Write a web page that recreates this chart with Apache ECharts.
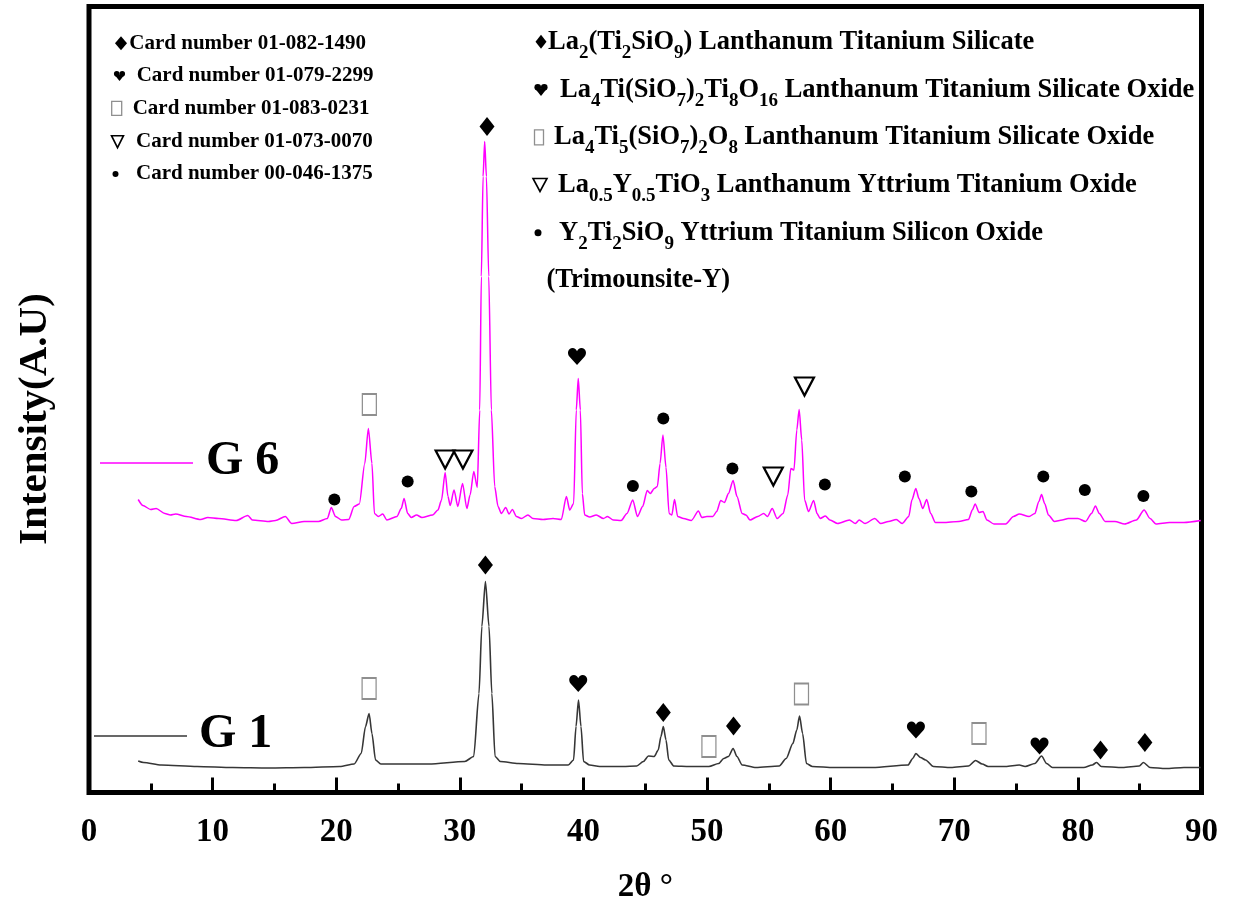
<!DOCTYPE html>
<html>
<head>
<meta charset="utf-8">
<title>XRD patterns G1 / G6</title>
<script src="https://cdn.jsdelivr.net/npm/echarts/dist/echarts.min.js"></script>
<style>
  html, body { margin: 0; padding: 0; background: #ffffff; }
  #chart { width: 1235px; height: 917px; }
</style>
</head>
<body>
<div id="chart"></div>
<script>
// ---------------------------------------------------------------------------
// Data
// ---------------------------------------------------------------------------

// 2θ axis range and major tick step (degrees)
const twoThetaMin = 0;
const twoThetaMax = 90;
const twoThetaStep = 10;
// intensity axis in arbitrary units
const intensityMax = 786;

// Diffraction pattern of sample G6: [2θ, intensity]
const g6Pattern = [
  [3.98, 293], [4.36, 287], [4.99, 283], [5.43, 284], [6.14, 279], [6.58, 277.5],
  [7.01, 278.5], [7.88, 276], [9.03, 273], [9.61, 275], [10.48, 274], [11.91, 272],
  [12.85, 277], [13.22, 272.5], [14.52, 271], [15.09, 272], [15.88, 276], [16.40, 269],
  [17.41, 271], [18.56, 271], [19.28, 274], [19.60, 285], [19.94, 276], [20.44, 272.5],
  [21.01, 273], [21.45, 286], [21.87, 288.5], [22.31, 329], [22.60, 364], [22.89, 329],
  [23.09, 279], [23.41, 276], [23.76, 278.5], [24.10, 272.5], [24.91, 276], [25.26, 284],
  [25.49, 294], [25.78, 279], [26.07, 275], [26.50, 277.5], [26.93, 275], [27.80, 277.5],
  [28.23, 282.5], [28.52, 292.5], [28.81, 320], [29.04, 296], [29.22, 287], [29.53, 302.5],
  [29.84, 286], [30.22, 309], [30.57, 284], [30.83, 297.5], [31.13, 321], [31.41, 305],
  [31.61, 382.5], [31.74, 516], [31.88, 616], [32.01, 651], [32.15, 616], [32.34, 516],
  [32.55, 382.5], [32.82, 306], [33.09, 286], [33.36, 279], [33.71, 285], [33.98, 278.5],
  [34.25, 283], [34.58, 276], [34.98, 274], [35.51, 277.5], [35.92, 274], [36.73, 273],
  [37.54, 274], [38.21, 273], [38.62, 296], [38.89, 282.5], [39.21, 289], [39.42, 382.5],
  [39.58, 414], [39.75, 382.5], [39.91, 299], [40.10, 277.5], [40.50, 275.5], [41.04, 277.5],
  [41.62, 274], [41.94, 276], [42.42, 272.5], [43.05, 272], [43.52, 279], [43.99, 292.5],
  [44.37, 276], [44.79, 286], [45.16, 302], [45.41, 299], [45.73, 304], [45.98, 306],
  [46.20, 329], [46.43, 357.5], [46.68, 325], [46.93, 279], [47.15, 277.5], [47.37, 293],
  [47.62, 276], [48.10, 274], [48.73, 272], [49.30, 281.5], [49.58, 275], [49.99, 276],
  [50.47, 276], [50.78, 281], [51.10, 292], [51.41, 290], [51.73, 299], [52.11, 312],
  [52.42, 296], [52.84, 279], [53.15, 277.5], [53.47, 272.5], [54.10, 276], [54.58, 279],
  [54.89, 276], [55.27, 284], [55.67, 274], [56.15, 279], [56.53, 297.5], [56.78, 324],
  [57.03, 322.5], [57.26, 362.5], [57.45, 383], [57.66, 352.5], [57.89, 292.5], [58.21, 281],
  [58.62, 292], [58.90, 279], [59.15, 274], [59.57, 276.5], [59.94, 272.5], [60.57, 269],
  [61.52, 272.5], [62.00, 269], [62.31, 272.5], [62.78, 269], [63.57, 274], [64.05, 269],
  [64.68, 271], [65.31, 273], [65.78, 269], [66.32, 276], [66.57, 292.5], [66.89, 304],
  [67.14, 294], [67.45, 284], [67.77, 293], [68.09, 279], [68.47, 270], [69.10, 270],
  [70.36, 271], [71.15, 273], [71.46, 282.5], [71.69, 288.5], [72.01, 280], [72.32, 281],
  [72.64, 272.5], [73.21, 268.5], [74.16, 268.5], [74.79, 276], [75.26, 278.5], [76.05, 276],
  [76.52, 279], [76.84, 291], [77.06, 298], [77.31, 289], [77.62, 277.5], [78.10, 271],
  [78.73, 272.5], [79.21, 274], [80.00, 274], [80.62, 271], [81.10, 279], [81.42, 286.5],
  [81.73, 279], [82.21, 271], [83.00, 271], [83.78, 268.5], [84.73, 272.5], [85.36, 282.5],
  [85.84, 274], [86.31, 268.5], [87.41, 270], [88.58, 270], [89.94, 272]
];

// Diffraction pattern of sample G1: [2θ, intensity]
const g1Pattern = [
  [3.98, 31.5], [4.41, 30], [5.85, 27.5], [8.74, 26], [11.63, 25], [14.52, 24.5],
  [17.41, 25], [20.29, 26], [21.45, 28.5], [22.02, 39], [22.37, 66], [22.66, 79],
  [22.89, 59], [23.18, 32.5], [23.61, 28.5], [24.62, 28.5], [27.50, 28.5], [30.40, 31],
  [31.12, 36], [31.55, 99], [31.78, 166], [32.07, 211], [32.36, 166], [32.59, 99],
  [32.85, 36], [33.28, 31], [34.73, 29], [37.03, 27.5], [38.77, 27.5], [39.20, 32.5],
  [39.40, 66], [39.60, 92.5], [39.80, 66], [40.01, 31], [40.50, 27.5], [41.31, 26],
  [43.20, 26], [44.31, 26.5], [44.85, 31], [45.26, 36.5], [45.73, 36], [46.05, 42.5],
  [46.27, 56], [46.46, 66], [46.68, 52.5], [46.90, 32.5], [47.31, 26.5], [48.57, 26],
  [50.15, 26], [50.94, 29], [51.35, 34], [51.73, 36], [52.11, 44], [52.42, 36],
  [52.84, 27.5], [53.95, 25], [55.84, 26.5], [56.40, 34], [56.94, 49], [57.26, 62.5],
  [57.48, 76.5], [57.73, 59], [58.04, 29], [58.52, 26], [60.25, 25], [63.40, 25],
  [66.26, 27.5], [66.64, 34], [66.89, 39], [67.27, 35], [67.68, 32.5], [68.31, 26],
  [69.73, 25], [71.15, 26.5], [71.72, 32], [72.26, 28.5], [72.73, 26], [74.16, 26],
  [75.26, 27.5], [75.73, 26], [76.52, 29], [77.06, 36.5], [77.47, 29], [77.94, 25],
  [80.47, 25], [81.17, 27.5], [81.51, 30], [81.89, 26], [83.62, 25], [84.97, 26.5],
  [85.30, 30], [85.84, 25], [87.10, 24], [88.58, 25], [89.94, 25]
];

// Phase identification marks placed over the peaks: [2θ, intensity]
const diamondMarks = [[32.2, 666], [32.07, 227.5], [46.46, 80], [52.14, 66.5], [81.83, 42.5], [85.42, 50]];
const heartMarks = [[39.48, 436], [39.58, 109], [66.9, 62.5], [76.9, 46.5]];
const boxMarks = [[22.68, 388], [22.66, 104], [50.15, 46], [57.64, 98.5], [72.0, 59]];
const triangleMarks = [[28.81, 333], [30.25, 333], [55.36, 316], [57.88, 406]];
const dotMarks = [
  [19.85, 293], [25.78, 311], [44.0, 306.5], [46.46, 374], [52.05, 324], [59.53, 308],
  [66.0, 316], [71.38, 301], [77.2, 316], [80.56, 302.5], [85.3, 296.5]
];

// Sample names
const sampleNames = ['G 6', 'G 1'];

// Reference card keys
const cardLegend = [
  ['diamond', 'Card number 01-082-1490'],
  ['heart', 'Card number 01-079-2299'],
  ['box', 'Card number 01-083-0231'],
  ['triangle', 'Card number 01-073-0070'],
  ['dot', 'Card number 00-046-1375']
];

// Phase keys (m = normal text, s = subscript)
const phaseLegend = [
  ['diamond', '{m|La}{s|2}{m|(Ti}{s|2}{m|SiO}{s|9}{m|) Lanthanum Titanium Silicate}'],
  ['heart', '{m|La}{s|4}{m|Ti(SiO}{s|7}{m|)}{s|2}{m|Ti}{s|8}{m|O}{s|16}{m| Lanthanum Titanium Silicate Oxide}'],
  ['box', '{m|La}{s|4}{m|Ti}{s|5}{m|(SiO}{s|7}{m|)}{s|2}{m|O}{s|8}{m| Lanthanum Titanium Silicate Oxide}'],
  ['triangle', '{m|La}{s|0.5}{m|Y}{s|0.5}{m|TiO}{s|3}{m| Lanthanum Yttrium Titanium Oxide}'],
  ['dot', '{m|Y}{s|2}{m|Ti}{s|2}{m|SiO}{s|9}{m| Yttrium Titanium Silicon Oxide}'],
  [null, '{m|(Trimounsite-Y)}']
];

const axisTitles = { x: '2θ °', y: 'Intensity(A.U)' };

// ---------------------------------------------------------------------------
// Styling / layout
// ---------------------------------------------------------------------------
const SERIF = "'Liberation Serif', 'Times New Roman', serif";
const MAGENTA = '#ff00ff';
const DARK = '#363636';
const BOX_GREY = '#8f8f8f';

const HEART_PATH = 'path://M50,92 L11,50 C-4,34 3,6 27,6 C38,6 46,14 50,23 C54,14 62,6 73,6 C97,6 104,34 89,50 Z';

// glyph drawn with plain graphic shapes (used by the two key blocks)
function glyph(kind, cx, cy, w, h) {
  switch (kind) {
    case 'diamond':
      return { type: 'polygon', shape: { points: [[cx, cy - h / 2], [cx + w / 2, cy], [cx, cy + h / 2], [cx - w / 2, cy]] },
               style: { fill: '#000' } };
    case 'heart': {
      const r = w / 4;
      return { type: 'group', children: [
        { type: 'circle', shape: { cx: cx - r, cy: cy - h / 2 + r, r: r * 1.02 }, style: { fill: '#000' } },
        { type: 'circle', shape: { cx: cx + r, cy: cy - h / 2 + r, r: r * 1.02 }, style: { fill: '#000' } },
        { type: 'polygon', shape: { points: [[cx - 2 * r + 0.3, cy - h / 2 + r * 1.3], [cx + 2 * r - 0.3, cy - h / 2 + r * 1.3], [cx, cy + h / 2]] },
          style: { fill: '#000' } }
      ] };
    }
    case 'box':
      return { type: 'rect', shape: { x: cx - w / 2, y: cy - h / 2, width: w, height: h },
               style: { fill: 'none', stroke: BOX_GREY, lineWidth: 1.3 } };
    case 'triangle':
      return { type: 'polygon', shape: { points: [[cx - w / 2, cy - h / 2], [cx + w / 2, cy - h / 2], [cx, cy + h / 2]] },
               style: { fill: '#fff', stroke: '#000', lineWidth: 1.6 } };
    case 'dot':
      return { type: 'circle', shape: { cx: cx, cy: cy, r: w / 2 }, style: { fill: '#000' } };
  }
  return null;
}

const graphics = [];

// card key block (upper left)
const cardRowY = [43.3, 76, 108.3, 141.7, 174];
const cardGlyphX = [121, 119.5, 116.7, 117.5, 115.5];
const cardTextX = [129.3, 136.7, 132.7, 136, 136];
const smallGlyphSize = { diamond: [12, 14], heart: [11, 10], box: [10, 14], triangle: [12, 12], dot: [6, 6] };
cardLegend.forEach(function (row, i) {
  const sz = smallGlyphSize[row[0]];
  graphics.push(glyph(row[0], cardGlyphX[i], cardRowY[i], sz[0], sz[1]));
  graphics.push({ type: 'text', x: cardTextX[i], y: cardRowY[i],
    style: { text: row[1], font: 'bold 21px ' + SERIF, fill: '#000',
             align: 'left', verticalAlign: 'middle', textAlign: 'left', textVerticalAlign: 'middle' } });
});

// phase key block (upper right)
const phaseRowY = [41.7, 90, 137.3, 185, 232.7, 280];
const phaseGlyphX = [541, 541, 539, 540, 538];
const phaseTextX = [548, 560, 554, 558, 559, 546.5];
const phaseGlyphSize = { diamond: [11, 14], heart: [13, 12], box: [9, 15], triangle: [14, 13], dot: [7, 7] };
phaseLegend.forEach(function (row, i) {
  if (row[0]) {
    const sz = phaseGlyphSize[row[0]];
    graphics.push(glyph(row[0], phaseGlyphX[i], phaseRowY[i], sz[0], sz[1]));
  }
  graphics.push({ type: 'text', x: phaseTextX[i], y: phaseRowY[i],
    style: {
      text: row[1], align: 'left', verticalAlign: 'middle', textAlign: 'left', textVerticalAlign: 'middle',
      rich: {
        m: { fontFamily: SERIF, fontWeight: 'bold', fontSize: 26.5, fill: '#000', color: '#000' },
        s: { fontFamily: SERIF, fontWeight: 'bold', fontSize: 19, fill: '#000', color: '#000', padding: [22, 0, 0, 0] }
      }
    } });
});

// sample keys
const sampleKeys = [
  { color: MAGENTA, x1: 100, x2: 193, y: 463, tx: 206 },
  { color: DARK, x1: 94, x2: 187, y: 736, tx: 199 }
];
sampleKeys.forEach(function (k, i) {
  graphics.push({ type: 'line', shape: { x1: k.x1, y1: k.y, x2: k.x2, y2: k.y },
                  style: { stroke: k.color, lineWidth: 1.5 } });
  graphics.push({ type: 'text', x: k.tx, y: k.y - 1,
    style: { text: sampleNames[i], font: 'bold 48px ' + SERIF, fill: '#000',
             align: 'left', verticalAlign: 'middle', textAlign: 'left', textVerticalAlign: 'middle' } });
});

// intensity axis title
graphics.push({ type: 'text', x: 35, y: 419, rotation: Math.PI / 2,
  style: { text: axisTitles.y, font: 'bold 41px ' + SERIF, fill: '#000',
           align: 'center', verticalAlign: 'middle', textAlign: 'center', textVerticalAlign: 'middle' } });

// ---------------------------------------------------------------------------
// Chart
// ---------------------------------------------------------------------------
function markSeries(name, data, symbol, size, itemStyle, extra) {
  return Object.assign({
    name: name, type: 'scatter', data: data, symbol: symbol, symbolSize: size,
    itemStyle: Object.assign({ opacity: 1 }, itemStyle), z: 5, silent: true, animation: false
  }, extra || {});
}

const option = {
  animation: false,
  backgroundColor: '#ffffff',
  grid: {
    left: 89, right: 33.5, top: 6.5, bottom: 124.5,
    show: true, borderColor: '#000', borderWidth: 5, backgroundColor: 'transparent'
  },
  xAxis: {
    type: 'value',
    min: twoThetaMin, max: twoThetaMax, interval: twoThetaStep,
    name: axisTitles.x, nameLocation: 'middle', nameGap: 78,
    nameTextStyle: { fontFamily: SERIF, fontWeight: 'bold', fontSize: 33, color: '#000' },
    axisLine: { show: false },
    axisTick: { show: true, inside: true, length: 15, lineStyle: { color: '#000', width: 3 } },
    minorTick: { show: true, splitNumber: 2, length: 9, lineStyle: { color: '#000', width: 3 } },
    splitLine: { show: false },
    minorSplitLine: { show: false },
    axisLabel: { margin: 23, fontFamily: SERIF, fontWeight: 'bold', fontSize: 33, color: '#000' }
  },
  yAxis: {
    type: 'value', min: 0, max: intensityMax,
    axisLine: { show: false }, axisTick: { show: false }, axisLabel: { show: false },
    splitLine: { show: false }
  },
  graphic: { elements: graphics },
  series: [
    {
      name: 'G 1', type: 'line', data: g1Pattern, showSymbol: false, symbol: 'none',
      smooth: 0.25, smoothMonotone: 'x',
      lineStyle: { color: DARK, width: 1.6 }, z: 3, silent: true
    },
    {
      name: 'G 6', type: 'line', data: g6Pattern, showSymbol: false, symbol: 'none',
      smooth: 0.25, smoothMonotone: 'x',
      lineStyle: { color: MAGENTA, width: 1.5 }, z: 3, silent: true
    },
    markSeries('La2(Ti2SiO9)', diamondMarks, 'diamond', [15, 19], { color: '#000' }),
    markSeries('La4Ti(SiO7)2Ti8O16', heartMarks, HEART_PATH, [18, 17], { color: '#000' }),
    markSeries('La4Ti5(SiO7)2O8', boxMarks, 'rect', [14, 21],
               { color: 'rgba(255,255,255,0)', borderColor: BOX_GREY, borderWidth: 1.5 }),
    markSeries('La0.5Y0.5TiO3', triangleMarks, 'triangle', [19, 18],
               { color: '#ffffff', borderColor: '#000', borderWidth: 2.2 }, { symbolRotate: 180 }),
    markSeries('Y2Ti2SiO9', dotMarks, 'circle', 12, { color: '#000' })
  ]
};

const chart = echarts.init(document.getElementById('chart'), null, { renderer: 'canvas' });
chart.setOption(option);
</script>
</body>
</html>
